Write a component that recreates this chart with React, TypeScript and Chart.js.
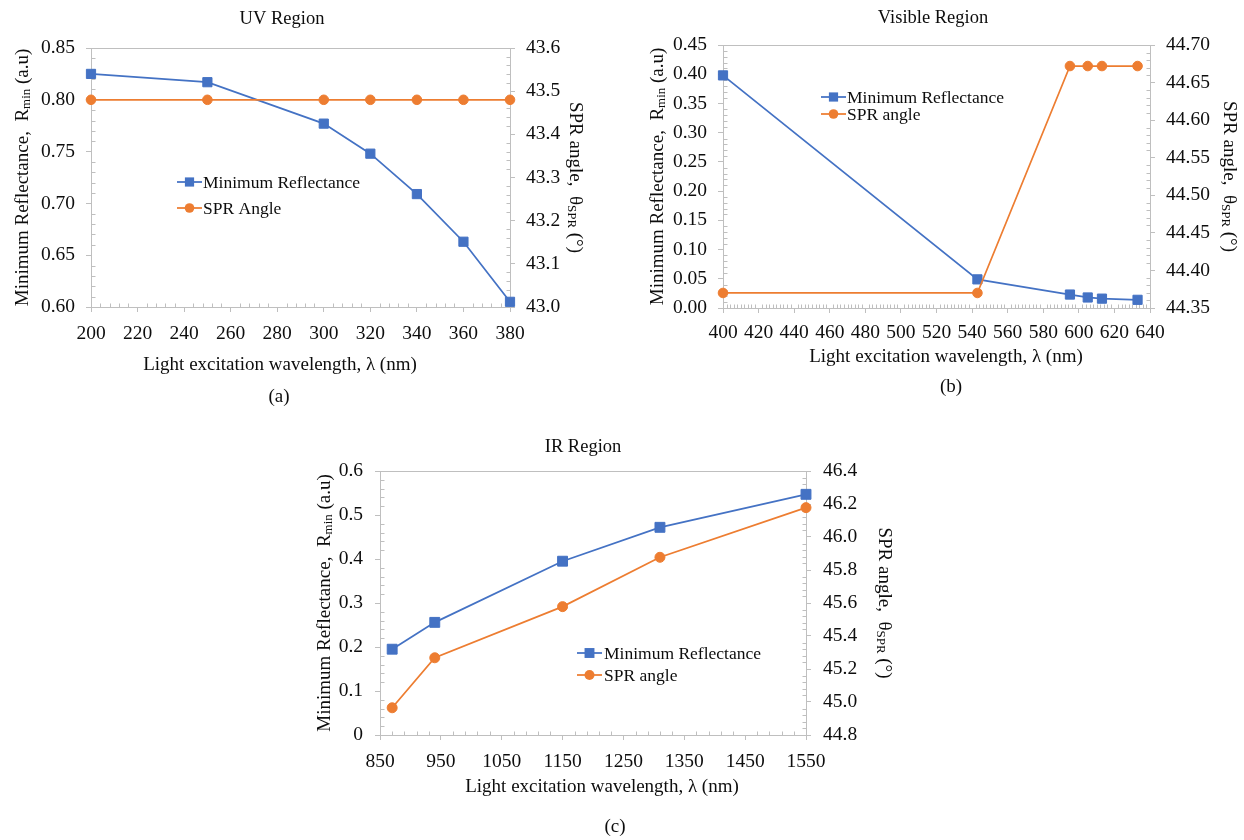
import React, { useEffect, useRef } from "react";
import { Chart, registerables } from "chart.js";

Chart.register(...registerables);

// ---------------- data ----------------
const uvWavelength = [200, 250, 300, 320, 340, 360, 380];
const uvReflectance = [0.825, 0.817, 0.777, 0.748, 0.709, 0.663, 0.605];
const uvSprAngle = [43.48, 43.48, 43.48, 43.48, 43.48, 43.48, 43.48];

const visWavelength = [400, 543, 595, 605, 613, 633];
const visReflectance = [0.398, 0.049, 0.023, 0.018, 0.016, 0.014];
const visSprAngle = [44.37, 44.37, 44.672, 44.672, 44.672, 44.672];

const irWavelength = [870, 940, 1150, 1310, 1550];
const irReflectance = [0.195, 0.256, 0.395, 0.472, 0.547];
const irSprAngle = [44.965, 45.268, 45.578, 45.877, 46.178];

const panelTitles = ["UV Region", "Visible Region", "IR Region"];
const panelCaptions = ["(a)", "(b)", "(c)"];
const reflectanceName = "Minimum Reflectance";
const sprNames = ["SPR Angle", "SPR angle", "SPR angle"];
const xAxisTitle = "Light excitation wavelength, λ (nm)";

// axis ranges: [min, max, major step, minor subdivisions, decimals (-1 = general)]
const uvX = [200, 380, 20, 5, 0];
const uvY = [0.6, 0.85, 0.05, 5, 2];
const uvY1 = [43.0, 43.6, 0.1, 5, 1];
const visX = [400, 640, 20, 10, 0];
const visY = [0, 0.45, 0.05, 5, 2];
const visY1 = [44.35, 44.7, 0.05, 5, 2];
const irX = [850, 1550, 100, 5, 0];
const irY = [0, 0.6, 0.1, 5, -1];
const irY1 = [44.8, 46.4, 0.2, 5, 1];

// ---------------- styles ----------------
const BLUE = "#4472C4";
const ORANGE = "#ED7D31";
const AXIS = "#BFBFBF";
const TEXT = "#0d0d0d";
const FONT = "'Liberation Serif', 'Times New Roman', serif";
const TICK_SIZE = 19.5;
const AXIS_TITLE_SIZE = 19;
const TITLE_SIZE = 18.5;
const LEGEND_SIZE = 17.5;

type Axis = number[];
type Panel = {
  key: string;
  box: { left: number; top: number; width: number; height: number };
  area: { l: number; r: number; t: number; b: number };
  x: Axis; y: Axis; y1: Axis;
  xs: number[]; refl: number[]; spr: number[];
  title: string; caption: string; sprName: string;
  titlePos: [number, number];
  captionPos: [number, number];
  xTitlePos: [number, number];
  yTitleX: number; y1TitleX: number;
  legend: { x0: number; x1: number; tx: number; r0: number; r1: number };
  sq: number; circ: number;
  yPad: number; xPad: number;
};

const panels: Panel[] = [
  {
    key: "uv",
    box: { left: 0, top: 0, width: 620, height: 415 },
    area: { l: 91, r: 510, t: 48, b: 307 },
    x: uvX, y: uvY, y1: uvY1,
    xs: uvWavelength, refl: uvReflectance, spr: uvSprAngle,
    title: panelTitles[0], caption: panelCaptions[0], sprName: sprNames[0],
    titlePos: [282, 19], captionPos: [279, 397], xTitlePos: [280, 365],
    yTitleX: 22, y1TitleX: 576,
    legend: { x0: 177, x1: 202, tx: 203, r0: 182, r1: 208 },
    sq: 6.5, circ: 4.8,
    yPad: 11, xPad: 10,
  },
  {
    key: "vis",
    box: { left: 620, top: 0, width: 624, height: 415 },
    area: { l: 723, r: 1150, t: 45, b: 308 },
    x: visX, y: visY, y1: visY1,
    xs: visWavelength, refl: visReflectance, spr: visSprAngle,
    title: panelTitles[1], caption: panelCaptions[1], sprName: sprNames[1],
    titlePos: [933, 18], captionPos: [951, 387], xTitlePos: [946, 357],
    yTitleX: 657, y1TitleX: 1230,
    legend: { x0: 821, x1: 846, tx: 847, r0: 97, r1: 114 },
    sq: 6.5, circ: 4.8,
    yPad: 11, xPad: 8,
  },
  {
    key: "ir",
    box: { left: 290, top: 420, width: 650, height: 420 },
    area: { l: 380, r: 806, t: 471, b: 735 },
    x: irX, y: irY, y1: irY1,
    xs: irWavelength, refl: irReflectance, spr: irSprAngle,
    title: panelTitles[2], caption: panelCaptions[2], sprName: sprNames[2],
    titlePos: [583, 447], captionPos: [615, 827], xTitlePos: [602, 787],
    yTitleX: 324, y1TitleX: 885,
    legend: { x0: 577, x1: 602, tx: 604, r0: 653, r1: 675 },
    sq: 7, circ: 5,
    yPad: 12, xPad: 10,
  },
];

function fmt(v: number, dec: number) {
  if (dec >= 0) return v.toFixed(dec);
  return String(parseFloat(v.toFixed(6)));
}

type Seg = { t: string; sub?: boolean };

function drawRich(ctx: CanvasRenderingContext2D, segs: Seg[], cx: number, cy: number, rot: number, size: number) {
  ctx.save();
  ctx.translate(cx, cy);
  ctx.rotate(rot);
  const fMain = `${size}px ${FONT}`;
  const fSub = `${size * 0.68}px ${FONT}`;
  let total = 0;
  const widths = segs.map((s) => {
    ctx.font = s.sub ? fSub : fMain;
    const w = ctx.measureText(s.t).width;
    total += w;
    return w;
  });
  let x = -total / 2;
  ctx.textAlign = "left";
  ctx.textBaseline = "alphabetic";
  ctx.fillStyle = TEXT;
  const base = size * 0.33;
  segs.forEach((s, i) => {
    ctx.font = s.sub ? fSub : fMain;
    ctx.fillText(s.t, x, base + (s.sub ? size * 0.08 : 0));
    x += widths[i];
  });
  ctx.restore();
}

function scaleOptions(spec: Axis, pad: number, size: number, dim: "w" | "h", position: string) {
  return {
    type: "linear" as const,
    position,
    min: spec[0],
    max: spec[1],
    ticks: {
      stepSize: spec[2],
      autoSkip: false,
      maxRotation: 0,
      minRotation: 0,
      padding: pad,
      color: TEXT,
      font: { family: FONT, size: TICK_SIZE },
      callback: (v: number | string) => fmt(Number(v), spec[4]),
    },
    grid: { display: true, drawOnChartArea: false, drawTicks: true, tickLength: 5, color: AXIS, lineWidth: 1 },
    border: { display: true, color: AXIS, width: 1 },
    afterFit: (s: any) => {
      if (dim === "w") s.width = size;
      else s.height = size;
    },
  };
}

function decorPlugin(p: Panel) {
  const ox = p.box.left;
  const oy = p.box.top;
  return {
    id: "decor_" + p.key,
    beforeDatasetsDraw(chart: any) {
      const ctx: CanvasRenderingContext2D = chart.ctx;
      const a = chart.chartArea;
      ctx.save();
      ctx.strokeStyle = AXIS;
      ctx.lineWidth = 1;
      // top border of the plot box
      const ty = Math.round(a.top) + 0.5;
      ctx.beginPath();
      ctx.moveTo(a.left, ty);
      ctx.lineTo(a.right, ty);
      ctx.stroke();
      // minor ticks (inside)
      const minor = (scale: any, spec: Axis, side: "l" | "r" | "b") => {
        const step = spec[2] / spec[3];
        const n = Math.round((spec[1] - spec[0]) / step);
        ctx.beginPath();
        for (let i = 1; i < n; i++) {
          if (i % spec[3] === 0) continue;
          const v = spec[0] + i * step;
          const px = Math.round(scale.getPixelForValue(v)) + 0.5;
          if (side === "l") {
            const x = Math.round(a.left) + 0.5;
            ctx.moveTo(x, px);
            ctx.lineTo(x + 4, px);
          } else if (side === "r") {
            const x = Math.round(a.right) + 0.5;
            ctx.moveTo(x, px);
            ctx.lineTo(x - 4, px);
          } else {
            const y = Math.round(a.bottom) + 0.5;
            ctx.moveTo(px, y);
            ctx.lineTo(px, y - 4);
          }
        }
        ctx.stroke();
      };
      minor(chart.scales.y, p.y, "l");
      minor(chart.scales.y1, p.y1, "r");
      minor(chart.scales.x, p.x, "b");
      ctx.restore();
    },
    afterDraw(chart: any) {
      const ctx: CanvasRenderingContext2D = chart.ctx;
      const a = chart.chartArea;
      const midY = (a.top + a.bottom) / 2;
      ctx.save();
      ctx.fillStyle = TEXT;
      ctx.textAlign = "center";
      ctx.textBaseline = "middle";
      ctx.font = `${TITLE_SIZE}px ${FONT}`;
      ctx.fillText(p.title, p.titlePos[0] - ox, p.titlePos[1] - oy);
      ctx.font = `${AXIS_TITLE_SIZE}px ${FONT}`;
      ctx.fillText(xAxisTitle, p.xTitlePos[0] - ox, p.xTitlePos[1] - oy);
      ctx.fillText(p.caption, p.captionPos[0] - ox, p.captionPos[1] - oy);
      ctx.restore();

      drawRich(
        ctx,
        [{ t: "Minimum Reflectance,  R" }, { t: "min", sub: true }, { t: " (a.u)" }],
        p.yTitleX - ox,
        midY,
        -Math.PI / 2,
        AXIS_TITLE_SIZE
      );
      drawRich(
        ctx,
        [{ t: "SPR angle,  θ" }, { t: "SPR", sub: true }, { t: " (°)" }],
        p.y1TitleX - ox,
        midY,
        Math.PI / 2,
        AXIS_TITLE_SIZE
      );

      // legend (inside plot area)
      const rows = [
        { y: p.legend.r0, color: BLUE, name: reflectanceName, shape: "rect" },
        { y: p.legend.r1, color: ORANGE, name: p.sprName, shape: "circle" },
      ];
      ctx.save();
      rows.forEach((r) => {
        const y = r.y - oy;
        const x0 = p.legend.x0 - ox;
        const x1 = p.legend.x1 - ox;
        ctx.strokeStyle = r.color;
        ctx.lineWidth = 1.75;
        ctx.beginPath();
        ctx.moveTo(x0, y);
        ctx.lineTo(x1, y);
        ctx.stroke();
        ctx.fillStyle = r.color;
        const cx = (x0 + x1) / 2;
        if (r.shape === "rect") {
          const h = p.sq * Math.SQRT1_2;
          ctx.fillRect(cx - h, y - h, 2 * h, 2 * h);
        } else {
          ctx.beginPath();
          ctx.arc(cx, y, p.circ, 0, Math.PI * 2);
          ctx.fill();
        }
        ctx.fillStyle = TEXT;
        ctx.font = `${LEGEND_SIZE}px ${FONT}`;
        ctx.textAlign = "left";
        ctx.textBaseline = "middle";
        ctx.fillText(r.name, p.legend.tx - ox, y + 1);
      });
      ctx.restore();
    },
  };
}

function buildConfig(p: Panel): any {
  const yW = 60;
  const y1W = 60;
  const xH = 40;
  const la = {
    l: p.area.l - p.box.left,
    r: p.area.r - p.box.left,
    t: p.area.t - p.box.top,
    b: p.area.b - p.box.top,
  };
  return {
    type: "line",
    data: {
      datasets: [
        {
          label: reflectanceName,
          data: p.xs.map((x, i) => ({ x, y: p.refl[i] })),
          xAxisID: "x",
          yAxisID: "y",
          borderColor: BLUE,
          backgroundColor: BLUE,
          borderWidth: 1.75,
          pointStyle: "rect",
          pointRadius: p.sq,
          pointBorderWidth: 1,
          pointBorderColor: BLUE,
          pointBackgroundColor: BLUE,
          tension: 0,
          clip: false,
          order: 1,
        },
        {
          label: p.sprName,
          data: p.xs.map((x, i) => ({ x, y: p.spr[i] })),
          xAxisID: "x",
          yAxisID: "y1",
          borderColor: ORANGE,
          backgroundColor: ORANGE,
          borderWidth: 1.75,
          pointStyle: "circle",
          pointRadius: p.circ,
          pointBorderWidth: 1,
          pointBorderColor: ORANGE,
          pointBackgroundColor: ORANGE,
          tension: 0,
          clip: false,
          order: 0,
        },
      ],
    },
    options: {
      responsive: false,
      animation: false,
      events: [],
      layout: {
        padding: {
          left: la.l - yW,
          right: p.box.width - la.r - y1W,
          top: la.t,
          bottom: p.box.height - la.b - xH,
        },
      },
      scales: {
        x: scaleOptions(p.x, p.xPad, xH, "h", "bottom"),
        y: scaleOptions(p.y, p.yPad, yW, "w", "left"),
        y1: scaleOptions(p.y1, p.yPad, y1W, "w", "right"),
      },
      plugins: {
        legend: { display: false },
        tooltip: { enabled: false },
        title: { display: false },
      },
    },
    plugins: [decorPlugin(p)],
  };
}

function PanelChart({ p }: { p: Panel }) {
  const ref = useRef<HTMLCanvasElement>(null);
  useEffect(() => {
    if (!ref.current) return;
    const chart = new Chart(ref.current, buildConfig(p));
    return () => chart.destroy();
  }, [p]);
  return (
    <div
      style={{
        position: "absolute",
        left: p.box.left,
        top: p.box.top,
        width: p.box.width,
        height: p.box.height,
      }}
    >
      <canvas
        ref={ref}
        width={p.box.width}
        height={p.box.height}
        style={{ width: p.box.width, height: p.box.height, display: "block" }}
      />
    </div>
  );
}

export default function App() {
  return (
    <div
      style={{
        position: "absolute",
        left: 0,
        top: 0,
        width: 1244,
        height: 840,
        background: "#ffffff",
        overflow: "hidden",
      }}
    >
      {panels.map((p) => (
        <PanelChart key={p.key} p={p} />
      ))}
    </div>
  );
}
